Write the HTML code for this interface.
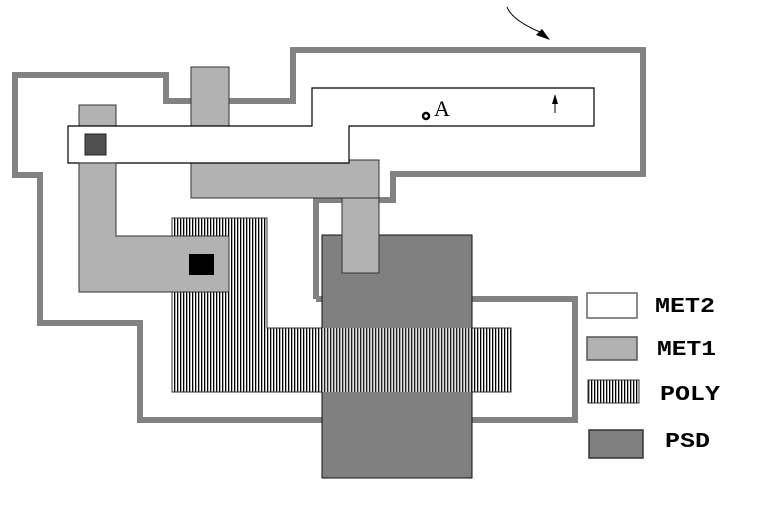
<!DOCTYPE html>
<html><head><meta charset="utf-8"><style>
html,body{margin:0;padding:0;background:#fff;}
svg{display:block;}
</style></head><body>
<svg width="759" height="506" viewBox="0 0 759 506" xmlns="http://www.w3.org/2000/svg">
<defs>
<pattern id="poly" width="3" height="4" patternUnits="userSpaceOnUse">
<rect width="3" height="4" fill="#fff"/><rect width="1.3" height="4" fill="#000"/>
</pattern>
</defs>
<!-- outline -->
<g fill="none" stroke="#828282" stroke-width="6" stroke-linejoin="miter">
<path d="M316,299 V200 H393 V174 H643 V50 H293 V101 H166 V75 H15 V175 H40 V323 H140 V420 H322"/>
<path d="M316,299 H472"/>
<path d="M472,299 H575 V420 H472"/>
</g>
<!-- MET1 -->
<g fill="#b2b2b2" stroke="#333" stroke-width="1">
<rect x="191" y="67" width="38" height="60"/>
<path d="M191,163 H349 V160 H379 V198 H191 Z"/>
<rect x="79" y="105" width="37" height="30"/>
</g>
<!-- MET2 -->
<path d="M68,126 H312 V88 H594 V126 H349 V163 H68 Z" fill="#fff" stroke="#000" stroke-width="1.2"/>
<rect x="85" y="134" width="21" height="21" fill="#505050" stroke="#222"/>
<!-- POLY -->
<path d="M172,218 H267 V328 H511 V392 H172 Z" fill="url(#poly)" stroke="#333"/>
<!-- MET1 L -->
<path d="M79,163 H116 V236 H229 V292 H79 Z" fill="#b2b2b2" stroke="#333"/>
<rect x="189" y="254" width="25" height="21" fill="#000"/>
<!-- PSD -->
<rect x="322" y="235" width="150" height="243" fill="#808080" stroke="#111"/>
<rect x="322" y="328" width="150" height="64" fill="url(#poly)" opacity="0.75"/>
<rect x="342" y="198" width="37" height="75" fill="#b2b2b2" stroke="#333"/>
<!-- annotations -->
<circle cx="426" cy="116" r="3" fill="none" stroke="#000" stroke-width="2.5"/>
<text x="434" y="116" font-family="Liberation Serif, serif" font-size="22">A</text>
<line x1="555" y1="113" x2="555" y2="98" stroke="#000" stroke-width="1"/>
<path d="M555,94 L552,104 L558,104 Z" fill="#000"/>
<path d="M507,7 Q512,20 540,32" fill="none" stroke="#000" stroke-width="1"/>
<path d="M550,40 L536,35 L542,29 Z" fill="#000"/>
<!-- legend -->
<rect x="587" y="293" width="50" height="25" fill="#fff" stroke="#666" stroke-width="1.5"/>
<rect x="587" y="337" width="50" height="23" fill="#b2b2b2" stroke="#555" stroke-width="1.5"/>
<rect x="588" y="380" width="51" height="23" fill="url(#poly)" stroke="#333"/>
<rect x="589" y="430" width="54" height="28" fill="#808080" stroke="#333" stroke-width="1.5"/>
<g font-family="Liberation Mono, monospace" font-weight="bold" font-size="21" fill="#000">
<text x="655" y="312" textLength="60" lengthAdjust="spacingAndGlyphs">MET2</text>
<text x="657" y="355" textLength="59" lengthAdjust="spacingAndGlyphs">MET1</text>
<text x="660" y="400" textLength="60" lengthAdjust="spacingAndGlyphs">POLY</text>
<text x="665" y="447" textLength="45" lengthAdjust="spacingAndGlyphs">PSD</text>
</g>
</svg>
</body></html>
